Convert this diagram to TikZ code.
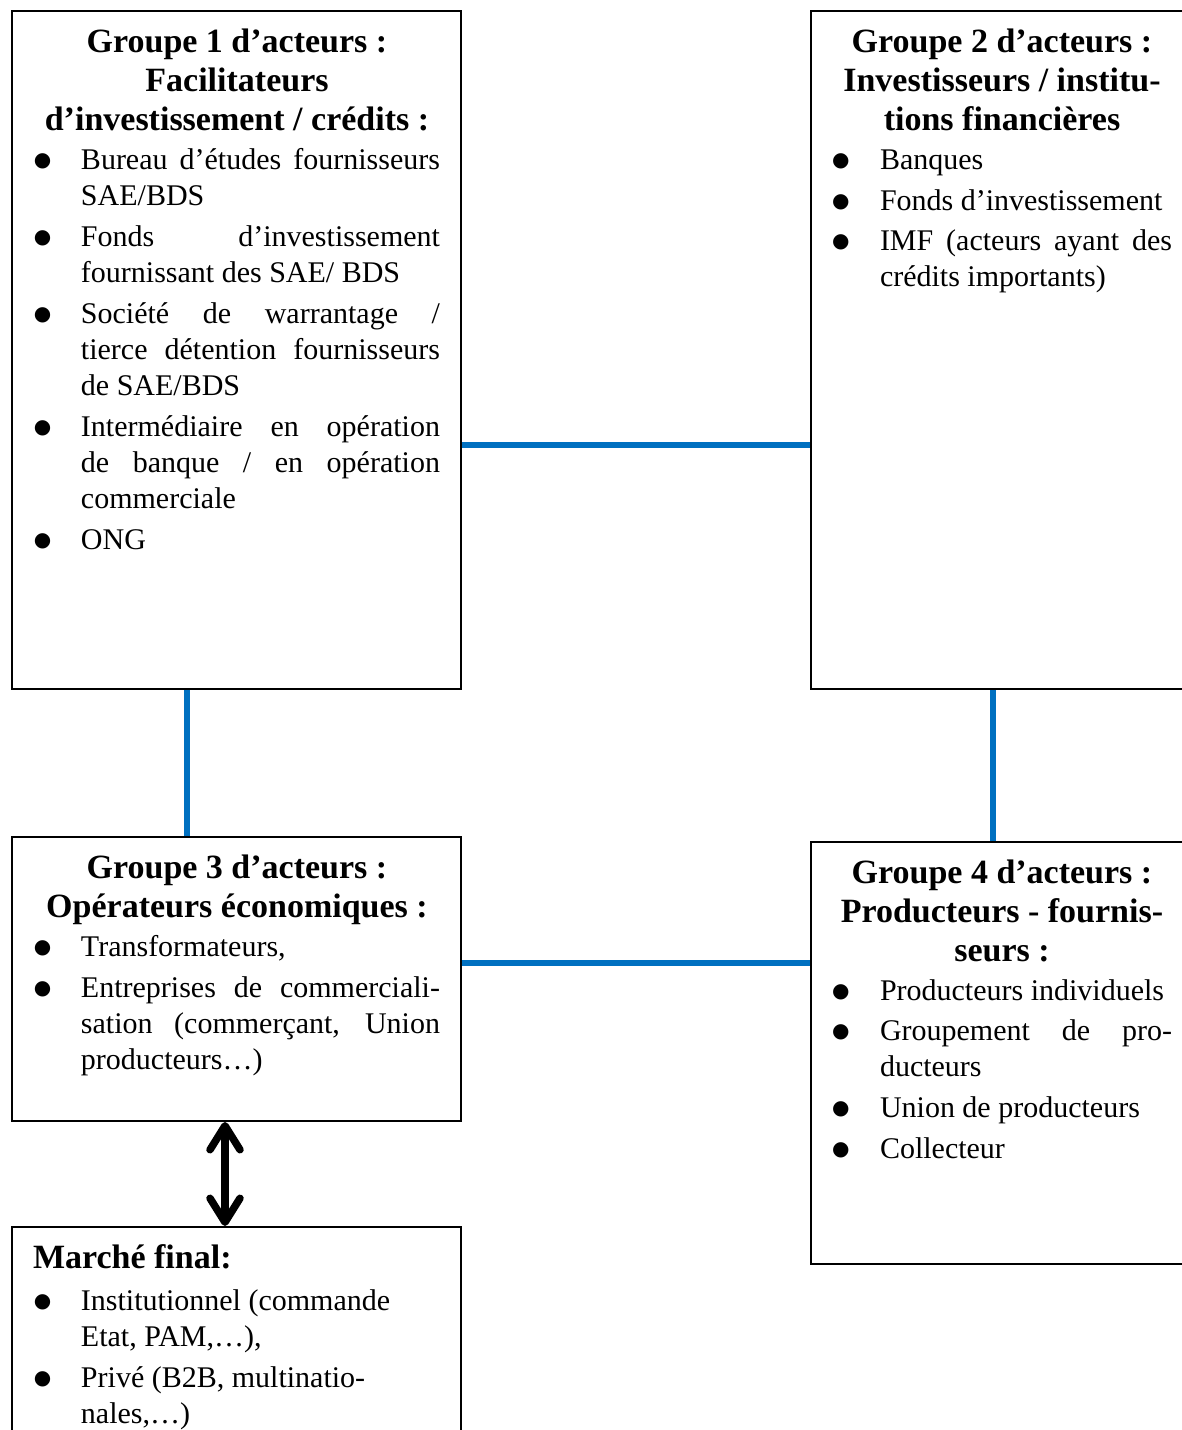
\documentclass[tikz,border=0pt]{standalone}
\usepackage{fontspec}
\setmainfont{Liberation Serif}
\newfontfamily\symfont{DejaVu Sans}
\usetikzlibrary{arrows.meta,backgrounds}
\definecolor{linkblue}{RGB}{0,112,192}
\newdimen\cw \newdimen\bw \newdimen\tw
\newcommand{\titlefont}{\fontsize{34}{39}\selectfont\bfseries}
\newcommand{\bodyfont}{\fontsize{30}{36}\selectfont}
\newcommand{\bulletmark}{\raisebox{3pt}{\symfont\fontsize{20}{20}\selectfont ●}}
\newcommand{\ttlc}[1]{\hbox to \cw{\hfil\titlefont #1\hfil}}
\newcommand{\ttll}[1]{\hbox to \cw{\titlefont #1\hfil}}
\newcommand{\bl}[1]{\hbox to \cw{\hbox to \bw{\bulletmark\hfil}#1\hfil}}
\newcommand{\blj}[1]{\hbox to \cw{\hbox to \bw{\bulletmark\hfil}\makebox[\tw][s]{#1}\hfil}}
\newcommand{\cln}[1]{\hbox to \cw{\hskip\bw #1\hfil}}
\newcommand{\clj}[1]{\hbox to \cw{\hskip\bw\makebox[\tw][s]{#1}\hfil}}
\newcommand{\boxsetup}{\bodyfont\baselineskip=36pt\lineskiplimit=-1000pt\lineskip=0pt}
\begin{document}
\begin{tikzpicture}[x=1pt,y=-1pt,
  box/.style={draw=black,line width=2pt,rectangle,inner sep=0pt},
  content/.style={anchor=base west,inner sep=0pt,outer sep=0pt},
  blueline/.style={draw=linkblue,line width=6.5pt},
  dblarrow/.style={line width=7.5pt,{Straight Barb[length=24pt,width=30pt,round]}-{Straight Barb[length=24pt,width=30pt,round]}}]
\useasboundingbox (0,0) rectangle (1181,1430);
% boxes
\node[box,minimum width=449pt,minimum height=678pt] (b1) at (236.5,350) {};
\node[box,minimum width=384pt,minimum height=678pt] (b2) at (1003,350) {};
\node[box,minimum width=449pt,minimum height=284pt] (b3) at (236.5,979) {};
\node[box,minimum width=384pt,minimum height=422pt] (b4) at (1003,1053) {};
\node[box,minimum width=449pt,minimum height=218pt] (b5) at (236.5,1336) {};
% helper coordinates
\coordinate (y445) at (0,445);
\coordinate (y963) at (0,963);
\coordinate (x187) at (187,0);
\coordinate (x993) at (993,0);
\coordinate (x225) at (225,0);
% connectors
\begin{scope}[on background layer]
\draw[blueline] (b1.east |- y445) -- (b2.west |- y445);
\draw[blueline] (b3.east |- y963) -- (b4.west |- y963);
\draw[blueline] (b1.south -| x187) -- (b3.north -| x187);
\draw[blueline] (b2.south -| x993) -- (b4.north -| x993);
\end{scope}
\draw[dblarrow] (b3.south -| x225) -- (b5.north -| x225);
% contents
\node[content] (t1) at (34,52) {\vtop{\boxsetup\cw=406pt\bw=47pt\tw=359pt
  \ttlc{Groupe 1 d’acteurs :}\vskip3pt
  \ttlc{Facilitateurs}\vskip3pt
  \ttlc{d’investissement / crédits :}\vskip3.5pt
  \blj{Bureau d’études fournisseurs}
  \cln{SAE/BDS}\vskip5pt
  \blj{Fonds d’investissement}
  \cln{fournissant des SAE/ BDS}\vskip5pt
  \blj{Société de warrantage /}
  \clj{tierce détention fournisseurs}
  \cln{de SAE/BDS}\vskip5pt
  \blj{Intermédiaire en opération}
  \clj{de banque / en opération}
  \cln{commerciale}\vskip5pt
  \bl{ONG}}};
\node[content] (t2) at (832,52) {\vtop{\boxsetup\cw=340pt\bw=48pt\tw=292pt
  \ttlc{Groupe 2 d’acteurs :}\vskip3pt
  \ttlc{Investisseurs / institu-}\vskip3pt
  \ttlc{tions financières}\vskip3.5pt
  \bl{Banques}\vskip5pt
  \bl{Fonds d’investissement}\vskip4pt
  \blj{IMF (acteurs ayant des}
  \cln{crédits importants)}}};
\node[content] (t3) at (34,878) {\vtop{\boxsetup\cw=406pt\bw=47pt\tw=359pt
  \ttlc{Groupe 3 d’acteurs :}\vskip3pt
  \ttlc{Opérateurs économiques :}\vskip3.5pt
  \bl{Transformateurs,}\vskip5pt
  \blj{Entreprises de commerciali-}
  \clj{sation (commerçant, Union}
  \cln{producteurs…)}}};
\node[content] (t4) at (832,883) {\vtop{\boxsetup\cw=340pt\bw=48pt\tw=292pt
  \ttlc{Groupe 4 d’acteurs :}\vskip3pt
  \ttlc{Producteurs - fournis-}\vskip3pt
  \ttlc{seurs :}\vskip3.5pt
  \bl{Producteurs individuels}\vskip4pt
  \blj{Groupement de pro-}
  \cln{ducteurs}\vskip5pt
  \bl{Union de producteurs}\vskip5pt
  \bl{Collecteur}}};
\node[content] (t5) at (34,1268) {\vtop{\boxsetup\cw=406pt\bw=47pt\tw=359pt
  \hbox to \cw{\hskip-1pt\titlefont Marché final:\hfil}\vskip6pt
  \bl{Institutionnel (commande}
  \cln{Etat, PAM,…),}\vskip5pt
  \bl{Privé (B2B, multinatio-}
  \cln{nales,…)}}};
\end{tikzpicture}
\end{document}
